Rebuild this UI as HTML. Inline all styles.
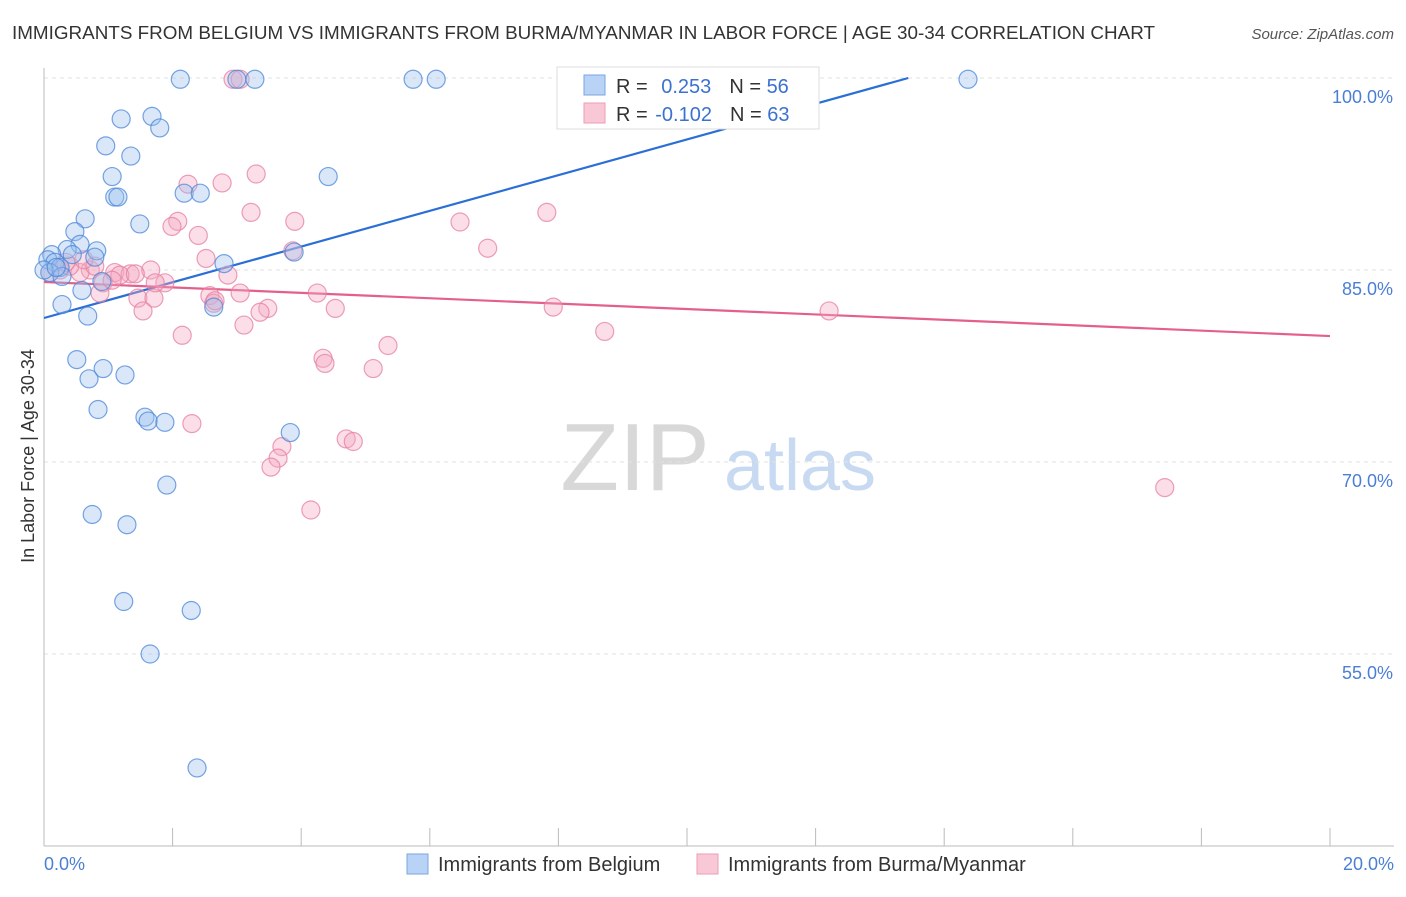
<!DOCTYPE html>
<html><head><meta charset="utf-8"><style>
body{margin:0;background:#fff;font-family:"Liberation Sans",sans-serif;}
svg text{font-family:"Liberation Sans",sans-serif;}
</style></head><body>
<svg id="chart" width="1406" height="892" viewBox="0 0 1406 892" xmlns="http://www.w3.org/2000/svg">
<text x="12" y="39" font-size="18" fill="#333" textLength="1143" lengthAdjust="spacingAndGlyphs">IMMIGRANTS FROM BELGIUM VS IMMIGRANTS FROM BURMA/MYANMAR IN LABOR FORCE | AGE 30-34 CORRELATION CHART</text>
<text x="1394" y="39" font-size="15" fill="#555" text-anchor="end" font-style="italic">Source: ZipAtlas.com</text>
<g>
<text x="635" y="490" font-size="96" fill="#d8d8d8" text-anchor="middle" font-family="Liberation Serif, serif">ZIP</text>
<text x="800" y="490" font-size="72" fill="#c8daf2" text-anchor="middle">atlas</text>
</g>
<g id="grid"></g>
<g id="axes"></g>
<g id="lines"></g>
<g id="pts"></g>
<text transform="translate(34,456) rotate(-90)" font-size="18" fill="#333" text-anchor="middle">In Labor Force | Age 30-34</text>
<text x="44" y="870" font-size="18" fill="#4a7fd4">0.0%</text>
<text x="1394" y="870" font-size="18" fill="#4a7fd4" text-anchor="end">20.0%</text>
<g>
<rect x="557" y="67" width="262" height="62" fill="#fff" stroke="#ddd"/>
<rect x="584" y="75" width="21" height="20" fill="#b8d3f5" stroke="#7aa6e0"/>
<rect x="584" y="103" width="21" height="20" fill="#f9c8d6" stroke="#ee9db5"/>
<text x="616" y="93" font-size="20" fill="#333">R = <tspan fill="#3b72d0" dx="8">0.253</tspan><tspan dx="18" fill="#333">N = </tspan><tspan fill="#3b72d0">56</tspan></text>
<text x="616" y="121" font-size="20" fill="#333">R = <tspan fill="#3b72d0" dx="2">-0.102</tspan><tspan dx="18" fill="#333">N = </tspan><tspan fill="#3b72d0">63</tspan></text>
</g>
<g>
<rect x="407" y="854" width="21" height="20" fill="#b8d3f5" stroke="#7aa6e0"/>
<text x="438" y="871" font-size="20" fill="#333">Immigrants from Belgium</text>
<rect x="697" y="854" width="21" height="20" fill="#f9c8d6" stroke="#ee9db5"/>
<text x="728" y="871" font-size="20" fill="#333">Immigrants from Burma/Myanmar</text>
</g>
</svg>
<script>
const yTicks=[100,85,70,55];
const yTickLabels=["100.0%","85.0%","70.0%","55.0%"];
const xTicks=[0,2,4,6,8,10,12,14,16,18,20];
const blueX=[2.12,3.0,3.28,5.74,6.1,14.37,1.2,1.68,1.8,0.96,1.35,1.06,4.42,1.1,1.15,2.18,2.43,0.64,1.49,0.48,0.56,0.36,0.82,0.44,0.79,0.12,0.06,0.17,0.25,0.09,0.28,0.9,0.59,0.28,0.68,2.64,2.8,3.89,0.51,0.7,0.92,1.26,0.84,1.57,1.62,1.88,3.83,1.91,0.75,1.29,1.24,2.29,1.65,2.38,0.0,0.19];
const blueY=[99.9,99.9,99.9,99.9,99.9,99.9,96.8,97.0,96.1,94.7,93.9,92.3,92.3,90.7,90.7,91.0,91.0,89.0,88.6,88.0,87.0,86.6,86.5,86.2,86.0,86.2,85.8,85.6,85.2,84.8,84.5,84.1,83.4,82.3,81.4,82.1,85.5,86.4,78.0,76.5,77.3,76.8,74.1,73.5,73.2,73.1,72.3,68.2,65.9,65.1,59.1,58.4,55.0,46.1,85.0,85.2];
const pinkX=[2.94,3.05,11.17,3.3,2.24,2.77,3.22,3.9,2.08,1.99,2.4,6.47,7.82,6.9,3.87,2.52,0.72,0.56,1.1,1.34,1.18,1.66,2.86,1.88,0.92,0.87,1.46,1.71,2.58,3.05,4.25,1.54,2.64,3.48,3.36,4.53,7.92,8.72,12.21,2.15,3.11,5.35,4.34,4.37,5.12,2.3,4.7,4.81,3.7,3.64,3.53,4.15,17.43,0.25,0.4,0.09,0.34,1.06,1.42,0.79,0.62,1.73,2.66];
const pinkY=[99.9,99.9,99.9,92.5,91.7,91.8,89.5,88.8,88.8,88.4,87.7,88.75,89.5,86.7,86.5,85.9,85.0,84.8,84.8,84.7,84.6,85.0,84.6,84.0,84.0,83.2,82.8,82.8,83.0,83.2,83.2,81.8,82.4,82.0,81.7,82.0,82.1,80.2,81.8,79.9,80.7,79.1,78.1,77.7,77.3,73.0,71.8,71.6,71.2,70.3,69.6,66.25,68.0,85.0,85.3,84.8,85.6,84.2,84.7,85.3,85.8,84.0,82.6];
const blueFit=[81.25,1.395];
const pinkFit=[84.06,-0.211];
const NS="http://www.w3.org/2000/svg";
const X=v=>44+v*64.3, Y=v=>78+(100-v)*12.8;
function mk(tag,attrs,parent){const e=document.createElementNS(NS,tag);for(const k in attrs)e.setAttribute(k,attrs[k]);parent.appendChild(e);return e;}
const grid=document.getElementById('grid'),axes=document.getElementById('axes'),lines=document.getElementById('lines'),pts=document.getElementById('pts');
yTicks.forEach((t,i)=>{
 const l=mk('line',{x1:44,x2:1394,y1:Y(t),y2:Y(t),stroke:'#e2e2e2','stroke-dasharray':'4,4'},grid);
 
 
 const tx=mk('text',{x:1393,y:Y(t)+25,'font-size':18,fill:'#4a7fd4','text-anchor':'end'},grid);
 tx.textContent=yTickLabels[i];
 
 
});
const ya=mk('line',{x1:44,x2:44,y1:68,y2:846,stroke:'#bbb'},axes);


const xa=mk('line',{x1:44,x2:1394,y1:846,y2:846,stroke:'#bbb'},axes);


xTicks.forEach(t=>{
 const tk=mk('line',{x1:X(t),x2:X(t),y1:828,y2:846,stroke:'#bbb'},axes);
 
 
});
function dots(xs,ys,fill,stroke,name){
 xs.forEach((x,i)=>{
  const c=mk('circle',{cx:X(x),cy:Y(ys[i]),r:9,fill:fill,'fill-opacity':0.38,stroke:stroke,'stroke-width':1.2,'stroke-opacity':0.75},pts);
  
  
 });
}
dots(pinkX,pinkY,'#f4a9c0','#e57fa0','burma-point');
dots(blueX,blueY,'#9cc0ee','#4a86d8','belgium-point');
const bxEnd=(100-blueFit[0])/blueFit[1];
const bl=mk('line',{x1:X(0),y1:Y(blueFit[0]),x2:X(bxEnd),y2:Y(100),stroke:'#2a6fd6','stroke-width':2.2},lines);


const pl=mk('line',{x1:X(0),y1:Y(pinkFit[0]),x2:X(20),y2:Y(pinkFit[0]+pinkFit[1]*20),stroke:'#e4608c','stroke-width':2.2},lines);


</script>
</body></html>
